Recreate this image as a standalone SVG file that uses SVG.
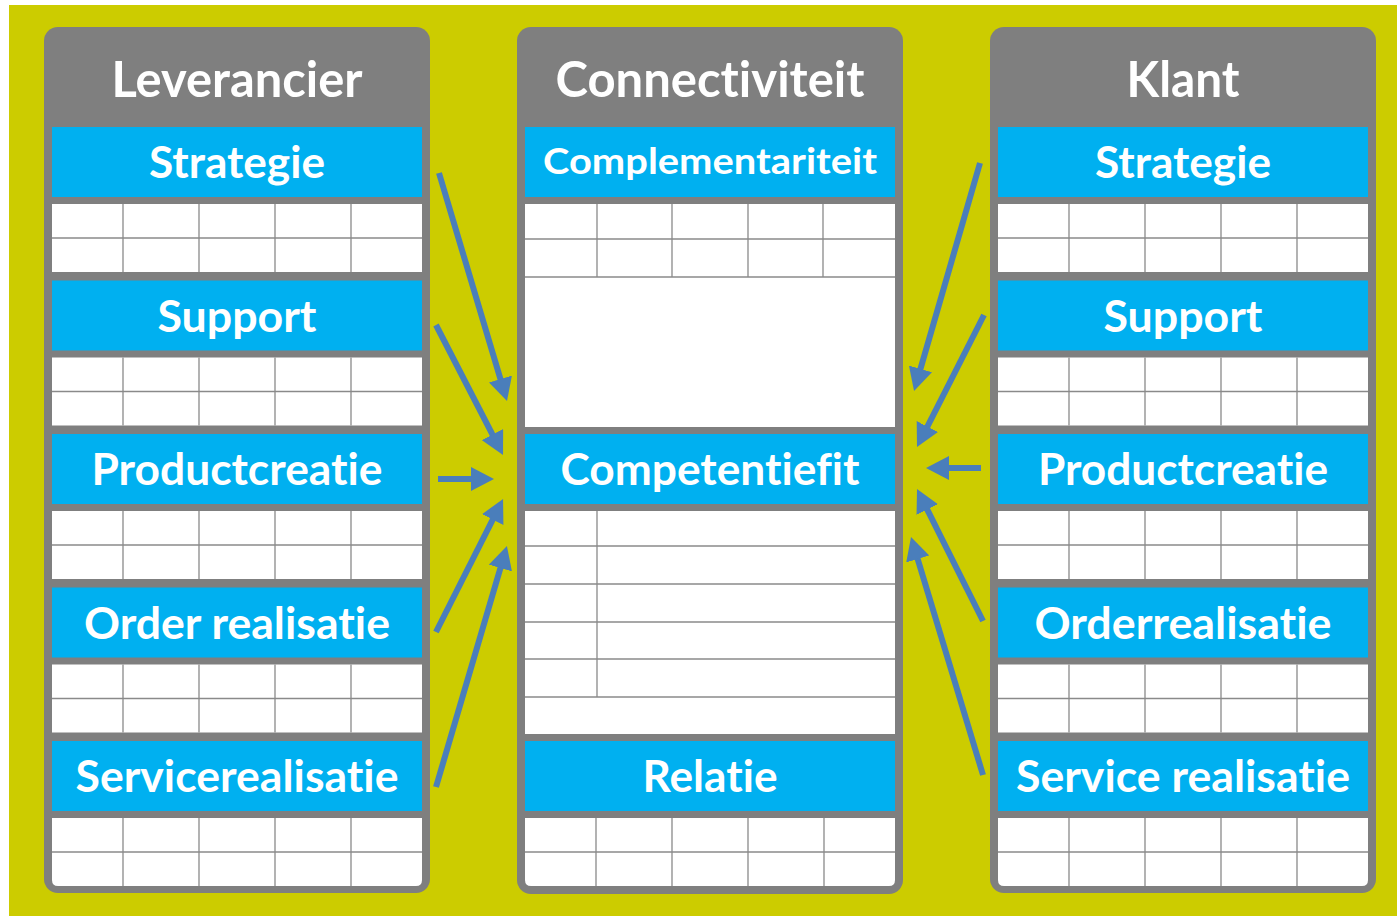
<svg xmlns="http://www.w3.org/2000/svg" xmlns:xlink="http://www.w3.org/1999/xlink" width="1397" height="916" viewBox="0 0 1397 916">
<style>
.col{fill:#7F7F7F}
.band{fill:#00B0F0}
.cell{fill:#FFFFFF}
.ln{stroke:#8A8A8A;stroke-width:1.3;fill:none}
.h,.b{font-family:"Lato","Open Sans",sans-serif;font-weight:bold;fill:#FFFFFF;text-anchor:middle;font-variant-ligatures:none;font-feature-settings:"liga" 0,"clig" 0,"dlig" 0}
.h{font-size:49px}
.b{font-size:44px}
.arr{stroke:#4A7EBB;stroke-width:6;fill:none;marker-end:url(#ah)}
</style>
<defs>
<marker id="ah" markerUnits="userSpaceOnUse" markerWidth="24" markerHeight="24" viewBox="0 0 24 24" refX="2" refY="12" orient="auto">
<path d="M0,0 L23,12 L0,24 Z" fill="#4A7EBB"/>
</marker>
<g id="grid5">
<rect class="cell" x="0" y="0" width="370" height="68"/>
<path class="ln" d="M0,34 H370 M71,0 V68 M147,0 V68 M223,0 V68 M299,0 V68"/>
</g>
<g id="grid5b">
<path class="cell" d="M0,0 H370 V62 Q370,68 364,68 H6 Q0,68 0,62 Z"/>
<path class="ln" d="M0,34 H370 M71,0 V68 M147,0 V68 M223,0 V68 M299,0 V68"/>
</g>
</defs>
<rect x="9" y="5" width="1388" height="911" fill="#CCCC00"/>

<g id="leverancier">
<rect class="col" x="44" y="27" width="386" height="866" rx="14"/>
<text class="h" x="237" y="97" textLength="251" lengthAdjust="spacingAndGlyphs">Leverancier</text>
<g id="lev-strategie">
<rect class="band" x="52" y="127" width="370" height="70"/>
<text class="b" x="237" y="178" textLength="176" lengthAdjust="spacingAndGlyphs">Strategie</text>
<use xlink:href="#grid5" x="52" y="204"/>
</g>
<g id="lev-support">
<rect class="band" x="52" y="280.5" width="370" height="70"/>
<text class="b" x="237" y="331.5" textLength="159" lengthAdjust="spacingAndGlyphs">Support</text>
<use xlink:href="#grid5" x="52" y="357.5"/>
</g>
<g id="lev-productcreatie">
<rect class="band" x="52" y="434" width="370" height="70"/>
<text class="b" x="237" y="485" textLength="291" lengthAdjust="spacingAndGlyphs">Productcreatie</text>
<use xlink:href="#grid5" x="52" y="511"/>
</g>
<g id="lev-order">
<rect class="band" x="52" y="587.5" width="370" height="70"/>
<text class="b" x="237" y="638.5" textLength="306" lengthAdjust="spacingAndGlyphs">Order realisatie</text>
<use xlink:href="#grid5" x="52" y="664.5"/>
</g>
<g id="lev-service">
<rect class="band" x="52" y="741" width="370" height="70"/>
<text class="b" x="237" y="792" textLength="323" lengthAdjust="spacingAndGlyphs">Servicerealisatie</text>
<use xlink:href="#grid5b" x="52" y="818"/>
</g>
</g>

<g id="connectiviteit">
<rect class="col" x="517" y="27" width="386" height="867" rx="14"/>
<text class="h" x="710" y="97" textLength="309" lengthAdjust="spacingAndGlyphs">Connectiviteit</text>
<g id="con-complementariteit">
<rect class="band" x="525" y="127" width="370" height="70"/>
<text class="b" x="710" y="174" style="font-size:37px" textLength="334" lengthAdjust="spacingAndGlyphs">Complementariteit</text>
<rect class="cell" x="525" y="204" width="370" height="223"/>
<path class="ln" d="M525,239 H895 M525,277 H895 M597,204 V277 M672,204 V277 M748,204 V277 M823,204 V277"/>
</g>
<g id="con-competentiefit">
<rect class="band" x="525" y="434" width="370" height="70"/>
<text class="b" x="710" y="485" textLength="299" lengthAdjust="spacingAndGlyphs">Competentiefit</text>
<rect class="cell" x="525" y="511" width="370" height="223"/>
<path class="ln" d="M525,546 H895 M525,584 H895 M525,622 H895 M525,659 H895 M525,697 H895 M597,511 V697"/>
</g>
<g id="con-relatie">
<rect class="band" x="525" y="741" width="370" height="70"/>
<text class="b" x="710" y="792" textLength="135" lengthAdjust="spacingAndGlyphs">Relatie</text>
<use xlink:href="#grid5b" x="525" y="818"/>
</g>
</g>

<g id="klant">
<rect class="col" x="990" y="27" width="386" height="866" rx="14"/>
<text class="h" x="1183" y="97" textLength="113" lengthAdjust="spacingAndGlyphs">Klant</text>
<g id="kl-strategie">
<rect class="band" x="998" y="127" width="370" height="70"/>
<text class="b" x="1183" y="178" textLength="176" lengthAdjust="spacingAndGlyphs">Strategie</text>
<use xlink:href="#grid5" x="998" y="204"/>
</g>
<g id="kl-support">
<rect class="band" x="998" y="280.5" width="370" height="70"/>
<text class="b" x="1183" y="331.5" textLength="159" lengthAdjust="spacingAndGlyphs">Support</text>
<use xlink:href="#grid5" x="998" y="357.5"/>
</g>
<g id="kl-productcreatie">
<rect class="band" x="998" y="434" width="370" height="70"/>
<text class="b" x="1183" y="485" textLength="290" lengthAdjust="spacingAndGlyphs">Productcreatie</text>
<use xlink:href="#grid5" x="998" y="511"/>
</g>
<g id="kl-order">
<rect class="band" x="998" y="587.5" width="370" height="70"/>
<text class="b" x="1183" y="638.5" textLength="297" lengthAdjust="spacingAndGlyphs">Orderrealisatie</text>
<use xlink:href="#grid5" x="998" y="664.5"/>
</g>
<g id="kl-service">
<rect class="band" x="998" y="741" width="370" height="70"/>
<text class="b" x="1183" y="792" textLength="334" lengthAdjust="spacingAndGlyphs">Service realisatie</text>
<use xlink:href="#grid5b" x="998" y="818"/>
</g>
</g>

<g id="connectors">
<path class="arr" d="M439,173 L501,380.9"/>
<path class="arr" d="M436,325 L493.4,436.3"/>
<path class="arr" d="M438,479 L473,479"/>
<path class="arr" d="M436,632 L493.6,517.8"/>
<path class="arr" d="M436,787 L501,566.1"/>
<path class="arr" d="M980,163 L919.9,370.8"/>
<path class="arr" d="M984,315 L926.5,428.3"/>
<path class="arr" d="M981,468 L947,468"/>
<path class="arr" d="M983,621 L926.4,507.8"/>
<path class="arr" d="M983,775 L917.1,557.1"/>
</g>
</svg>
